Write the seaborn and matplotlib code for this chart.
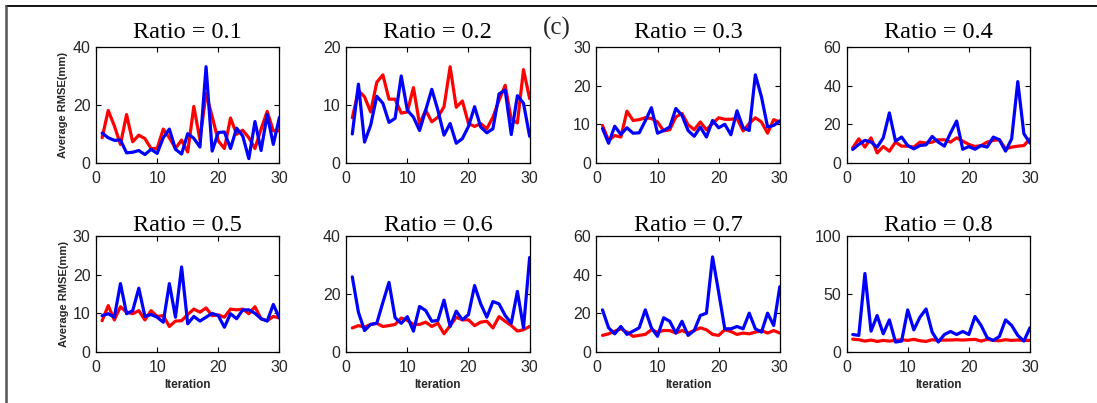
import numpy as np
import pandas as pd
import matplotlib
matplotlib.use("Agg")
import matplotlib.pyplot as plt
from matplotlib.lines import Line2D
import seaborn as sns

# ---------------- data ----------------
iterations = list(range(1, 31))
ratios = ["0.1", "0.2", "0.3", "0.4", "0.5", "0.6", "0.7", "0.8"]
y_max = [40, 20, 30, 60, 30, 40, 60, 100]
y_ticks = [[0, 20, 40], [0, 10, 20], [0, 10, 20, 30], [0, 20, 40, 60],
           [0, 10, 20, 30], [0, 20, 40], [0, 20, 40, 60], [0, 50, 100]]
x_ticks = [0, 10, 20, 30]

red_01 = [8.7, 18.1, 12.8, 6.4, 16.7, 7.3, 9.6, 8.4, 5.0, 5.0, 11.7, 8.7, 5.0, 7.9, 3.8,
          19.5, 8.0, 23.9, 16.0, 7.6, 5.0, 15.5, 9.9, 11.3, 8.7, 5.0, 11.7, 17.8, 11.1, 11.1]
blue_01 = [10.3, 8.7, 7.8, 7.9, 3.5, 3.7, 4.3, 2.9, 4.7, 3.3, 8.7, 11.7, 4.7, 3.1, 10.1,
           8.5, 5.5, 33.2, 4.1, 10.5, 10.7, 5.0, 12.0, 9.3, 1.5, 14.3, 4.3, 16.7, 6.4, 15.7]

red_02 = [7.8, 12.5, 11.4, 8.8, 13.9, 15.2, 11.0, 11.0, 8.6, 8.8, 13.0, 6.7, 9.1, 7.1, 7.9,
          9.7, 16.6, 9.6, 10.7, 6.8, 6.3, 6.8, 5.9, 7.9, 10.8, 13.4, 7.5, 6.9, 16.1, 11.1]
blue_02 = [5.0, 13.6, 3.6, 6.5, 11.5, 10.3, 7.0, 7.7, 15.0, 9.1, 7.9, 5.6, 9.1, 12.7, 9.1,
           4.8, 6.8, 3.4, 4.2, 6.3, 9.7, 6.2, 5.2, 5.9, 11.9, 12.6, 4.9, 11.6, 10.3, 4.6]

red_03 = [9.7, 5.8, 7.1, 6.7, 13.4, 11.0, 11.2, 11.7, 11.5, 10.6, 8.3, 8.6, 11.9, 12.8, 9.9,
          8.6, 10.6, 8.6, 10.2, 11.7, 11.3, 11.3, 11.5, 8.3, 10.2, 11.7, 10.6, 7.7, 11.2, 10.6]
blue_03 = [8.9, 5.1, 9.5, 7.4, 9.1, 7.7, 7.8, 10.9, 14.3, 7.7, 8.4, 9.3, 14.1, 12.3, 8.4,
           6.9, 9.3, 6.7, 11.0, 9.1, 10.0, 7.3, 13.5, 9.1, 8.4, 22.8, 17.1, 9.3, 9.7, 10.9]

red_04 = [7.8, 12.5, 8.2, 13.0, 5.2, 8.5, 6.1, 10.8, 8.7, 8.7, 8.2, 10.8, 10.3, 10.8, 12.0,
          12.0, 10.8, 13.0, 11.3, 9.6, 8.5, 9.0, 10.8, 11.7, 12.0, 7.3, 8.2, 8.7, 9.0, 12.5]
blue_04 = [7.0, 9.6, 11.7, 10.8, 8.2, 13.0, 25.9, 11.3, 13.4, 9.0, 7.3, 9.0, 9.4, 13.7, 10.8,
           8.7, 15.5, 21.7, 7.1, 8.5, 7.1, 9.0, 8.2, 13.4, 12.0, 6.1, 12.5, 42.1, 15.1, 10.3]

red_05 = [8.1, 12.0, 8.3, 11.7, 10.3, 9.9, 10.7, 8.3, 10.7, 9.2, 9.4, 6.6, 8.0, 8.1, 9.7,
          11.1, 10.3, 11.4, 9.4, 9.6, 9.0, 11.1, 10.9, 11.1, 9.9, 11.7, 8.6, 8.1, 9.2, 8.8]
blue_05 = [9.4, 9.9, 9.0, 17.7, 9.9, 10.7, 16.5, 9.2, 9.7, 9.0, 7.7, 17.7, 9.0, 22.0, 7.3,
           9.2, 8.0, 9.0, 10.0, 9.4, 6.4, 9.9, 8.6, 10.9, 10.9, 10.0, 8.6, 8.0, 12.3, 8.8]

red_06 = [8.3, 9.1, 8.6, 9.5, 9.9, 8.8, 9.1, 9.5, 11.7, 10.9, 9.5, 9.5, 10.3, 8.8, 9.9,
          6.3, 9.1, 12.0, 11.1, 11.1, 9.1, 10.3, 10.6, 8.3, 12.2, 10.6, 9.1, 7.2, 7.7, 8.8]
blue_06 = [25.9, 13.7, 7.4, 9.5, 9.9, 17.1, 24.0, 11.8, 9.9, 12.2, 7.2, 15.7, 14.3, 10.6, 10.9,
           17.9, 8.8, 14.1, 11.1, 12.9, 22.9, 16.6, 12.0, 17.4, 16.6, 12.6, 9.9, 20.9, 8.3, 32.6]

red_07 = [8.6, 9.4, 10.8, 12.0, 10.3, 8.1, 8.6, 9.1, 11.5, 10.3, 11.1, 11.1, 9.8, 11.1, 9.8,
          11.1, 12.5, 11.5, 9.1, 8.6, 11.5, 10.6, 9.1, 9.8, 9.4, 10.3, 11.1, 9.8, 11.1, 9.8]
blue_07 = [21.8, 12.5, 9.4, 13.2, 9.1, 10.8, 12.5, 21.8, 12.5, 8.1, 17.7, 15.9, 9.8, 15.9, 8.6,
           11.1, 18.9, 20.1, 49.2, 30.9, 12.0, 12.0, 13.2, 12.0, 20.1, 12.0, 10.3, 20.1, 13.7, 33.8]

red_08 = [11.1, 10.6, 9.4, 10.3, 9.1, 10.0, 9.4, 10.0, 10.6, 10.0, 10.9, 9.7, 9.1, 10.6, 10.0,
          10.3, 10.3, 10.6, 10.3, 10.6, 10.9, 9.4, 10.9, 10.0, 9.7, 10.6, 10.0, 10.3, 10.0, 10.0]
blue_08 = [15.1, 14.3, 67.7, 18.0, 31.4, 15.7, 27.7, 8.6, 9.4, 36.3, 19.1, 30.0, 37.1, 17.1, 8.6,
           15.1, 17.7, 15.1, 17.7, 15.1, 30.6, 22.9, 12.3, 10.0, 13.4, 27.7, 22.9, 14.3, 9.4, 20.9]

red_series = [red_01, red_02, red_03, red_04, red_05, red_06, red_07, red_08]
blue_series = [blue_01, blue_02, blue_03, blue_04, blue_05, blue_06, blue_07, blue_08]

# ---------------- style ----------------
sns.set_theme(style="ticks")
plt.rcParams["font.family"] = ["Liberation Sans", "DejaVu Sans"]
plt.rcParams.update({
    "xtick.direction": "in", "ytick.direction": "in",
    "xtick.top": True, "ytick.right": True,
    "xtick.major.size": 3.5, "ytick.major.size": 3.5,
    "xtick.major.width": 0.8, "ytick.major.width": 0.8,
    "axes.linewidth": 0.9, "axes.edgecolor": "black",
    "xtick.color": "black", "ytick.color": "black",
    "xtick.labelcolor": "#262626", "ytick.labelcolor": "#262626",
    "xtick.labelsize": 11.5, "ytick.labelsize": 11.5,
})

fig, axes = plt.subplots(2, 4, figsize=(10.97, 4.03), dpi=100)
fig.subplots_adjust(left=96 / 1097, right=1030 / 1097, top=1 - 47 / 403,
                    bottom=1 - 352 / 403, wspace=0.364, hspace=0.63)

for k, ax in enumerate(axes.flat):
    df = pd.DataFrame({"Iteration": iterations,
                       "red": red_series[k], "blue": blue_series[k]})
    sns.lineplot(data=df, x="Iteration", y="red", ax=ax, color="#ff0000",
                 linewidth=2.3, errorbar=None, sort=False)
    sns.lineplot(data=df, x="Iteration", y="blue", ax=ax, color="#0000ff",
                 linewidth=2.3, errorbar=None, sort=False)
    ax.set_xlim(0, 30)
    ax.set_ylim(0, y_max[k])
    ax.set_xticks(x_ticks)
    ax.set_yticks(y_ticks[k])
    ax.tick_params(axis="x", pad=6)
    ax.tick_params(axis="y", pad=4)
    row = k // 4
    ax.set_title(f"Ratio = {ratios[k]}", family="Liberation Serif",
                 fontsize=17.5, pad=(6.5 if row == 0 else 1.0), color="black")
    if k % 4 == 0:
        ax.set_ylabel("Average RMSE(mm)", fontsize=8, fontweight="bold",
                      labelpad=3)
    else:
        ax.set_ylabel("")
    if row == 1:
        ax.set_xlabel("Iteration", fontsize=8.5, fontweight="bold", labelpad=3)
    else:
        ax.set_xlabel("")
    for sp in ax.spines.values():
        sp.set_visible(True)

fig.text(543 / 1097, 1 - 35 / 403, "(c)", family="Liberation Serif",
         fontsize=18, ha="left", va="baseline")

# outer frame lines
fig.add_artist(Line2D([6 / 1097, 1.0], [1 - 6 / 403, 1 - 6 / 403],
                      transform=fig.transFigure, color="black", linewidth=1.3))
fig.add_artist(Line2D([6 / 1097, 6 / 1097], [0.0, 1 - 6 / 403],
                      transform=fig.transFigure, color="#555555", linewidth=1.8))

fig.savefig("out.png", dpi=100, facecolor="white")
